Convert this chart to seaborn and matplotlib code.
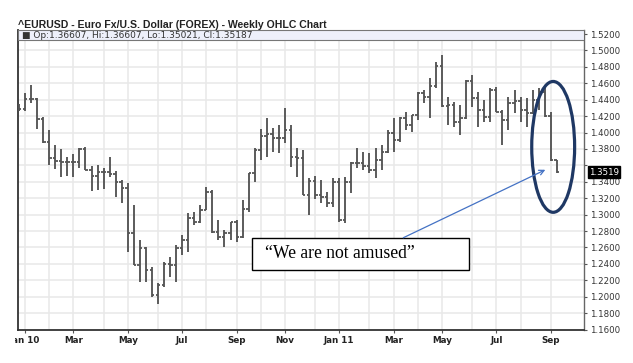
import numpy as np
import pandas as pd
import matplotlib
matplotlib.use("Agg")
import matplotlib.pyplot as plt
import matplotlib.transforms as mtransforms
from matplotlib.patches import Ellipse, Rectangle
import seaborn as sns

# ---------------- data (weekly EUR/USD bars) ----------------
first_week = "2009-12-28"

opens = [1.4336, 1.4288, 1.4409, 1.4409, 1.4166, 1.3886, 1.3692, 1.3655, 1.3643, 1.3643,
         1.3643, 1.3801, 1.3546, 1.3473, 1.3521, 1.3521, 1.3497, 1.3400, 1.3327, 1.2779,
         1.2390, 1.2597, 1.2329, 1.2025, 1.2147, 1.2402, 1.2390, 1.2597, 1.2694, 1.2962,
         1.2913, 1.3059, 1.3278, 1.2791, 1.2730, 1.2779, 1.2913, 1.2730, 1.3071, 1.3509,
         1.3789, 1.3959, 1.3983, 1.3935, 1.3935, 1.4032, 1.3704, 1.3692, 1.3241, 1.3412,
         1.3241, 1.3217, 1.3144, 1.3400, 1.2937, 1.3400, 1.3631, 1.3631, 1.3594, 1.3546,
         1.3667, 1.3765, 1.3996, 1.3911, 1.4178, 1.4093, 1.4215, 1.4482, 1.4434, 1.4567,
         1.4811, 1.4324, 1.4336, 1.4130, 1.4178, 1.4628, 1.4421, 1.4275, 1.4190, 1.4519,
         1.4251, 1.4154, 1.4361, 1.4385, 1.4275, 1.4239, 1.4397, 1.4494, 1.4202, 1.36607]

highs = [1.4348, 1.4482, 1.4580, 1.4421, 1.4190, 1.4032, 1.3850, 1.3801, 1.3704, 1.3740,
         1.3813, 1.3825, 1.3594, 1.3606, 1.3570, 1.3704, 1.3533, 1.3424, 1.3387, 1.3120,
         1.2694, 1.2609, 1.2366, 1.2171, 1.2426, 1.2487, 1.2633, 1.2755, 1.3022, 1.3035,
         1.3120, 1.3339, 1.3302, 1.2937, 1.2816, 1.2913, 1.2937, 1.3181, 1.3509, 1.3813,
         1.4044, 1.4178, 1.4056, 1.4093, 1.4300, 1.4093, 1.3813, 1.3789, 1.3448, 1.3473,
         1.3424, 1.3278, 1.3448, 1.3448, 1.3460, 1.3643, 1.3813, 1.3765, 1.3752, 1.3813,
         1.3850, 1.4032, 1.4178, 1.4190, 1.4251, 1.4215, 1.4494, 1.4519, 1.4665, 1.4859,
         1.4945, 1.4434, 1.4373, 1.4336, 1.4640, 1.4701, 1.4494, 1.4397, 1.4543, 1.4555,
         1.4275, 1.4434, 1.4519, 1.4434, 1.4421, 1.4519, 1.4543, 1.4543, 1.4251, 1.36607]

lows = [1.4263, 1.4263, 1.4361, 1.4044, 1.3874, 1.3606, 1.3558, 1.3460, 1.3473, 1.3460,
        1.3570, 1.3546, 1.3290, 1.3302, 1.3314, 1.3460, 1.3217, 1.3144, 1.2548, 1.2390,
        1.2183, 1.2183, 1.2001, 1.1915, 1.2122, 1.2244, 1.2183, 1.2512, 1.2548, 1.2876,
        1.2901, 1.3059, 1.2779, 1.2694, 1.2609, 1.2694, 1.2670, 1.2718, 1.3035, 1.3400,
        1.3667, 1.3704, 1.3765, 1.3752, 1.3874, 1.3582, 1.3460, 1.3241, 1.2998, 1.3193,
        1.3144, 1.3095, 1.3095, 1.2913, 1.2901, 1.3266, 1.3570, 1.3546, 1.3509, 1.3448,
        1.3546, 1.3752, 1.3765, 1.3886, 1.4032, 1.4008, 1.4154, 1.4361, 1.4178, 1.4543,
        1.4312, 1.4093, 1.4069, 1.3971, 1.4166, 1.4312, 1.4069, 1.4130, 1.4130, 1.4251,
        1.3850, 1.4032, 1.4239, 1.4130, 1.4069, 1.4227, 1.4275, 1.4190, 1.3655, 1.35021]

closes = [1.4288, 1.4409, 1.4409, 1.4166, 1.3886, 1.3692, 1.3655, 1.3643, 1.3643, 1.3643,
          1.3801, 1.3546, 1.3473, 1.3521, 1.3521, 1.3497, 1.3400, 1.3327, 1.2779, 1.2390,
          1.2597, 1.2329, 1.2025, 1.2147, 1.2402, 1.2390, 1.2597, 1.2694, 1.2962, 1.2913,
          1.3059, 1.3278, 1.2791, 1.2730, 1.2779, 1.2913, 1.2730, 1.3071, 1.3509, 1.3789,
          1.3959, 1.3983, 1.3935, 1.3935, 1.4032, 1.3704, 1.3692, 1.3241, 1.3412, 1.3241,
          1.3217, 1.3144, 1.3400, 1.2937, 1.3400, 1.3631, 1.3631, 1.3594, 1.3546, 1.3667,
          1.3765, 1.3996, 1.3911, 1.4178, 1.4093, 1.4215, 1.4482, 1.4434, 1.4567, 1.4811,
          1.4324, 1.4336, 1.4130, 1.4178, 1.4628, 1.4421, 1.4275, 1.4190, 1.4519, 1.4251,
          1.4154, 1.4361, 1.4385, 1.4275, 1.4239, 1.4397, 1.4494, 1.4202, 1.3667, 1.35187]

y_ticks = [1.16, 1.18, 1.20, 1.22, 1.24, 1.26, 1.28, 1.30, 1.32, 1.34,
           1.36, 1.38, 1.40, 1.42, 1.44, 1.46, 1.48, 1.50, 1.52]
x_tick_labels = ["Jan 10", "Mar", "May", "Jul", "Sep", "Nov",
                 "Jan 11", "Mar", "May", "Jul", "Sep"]

title = "^EURUSD - Euro Fx/U.S. Dollar (FOREX) - Weekly OHLC Chart"
legend_text = "\u25A0 Op:1.36607, Hi:1.36607, Lo:1.35021, Cl:1.35187"
last_label = "1.3519"
note_text = "\u201cWe are not amused\u201d"

# ---------------- frame ----------------
dates = pd.date_range(first_week, periods=len(closes), freq="7D")
df = pd.DataFrame({"date": dates, "open": opens, "high": highs,
                   "low": lows, "close": closes})
df["idx"] = np.arange(len(df))

sns.set_theme(style="white")
plt.rcParams["font.family"] = ["DejaVu Sans"]

W, H = 633, 363
fig = plt.figure(figsize=(W / 100, H / 100), dpi=100)
fig.patch.set_facecolor("white")
ax = fig.add_axes([18 / W, 33 / H, 566 / W, 300 / H])
ax.set_facecolor("white")

# month starts -> vertical grid, odd months labelled
month_start = [i for i in range(1, len(df)) if df["date"][i].month != df["date"][i - 1].month]
labelled = [i for i in month_start if df["date"][i].month % 2 == 1]

grid_c = "#e8e8e8"
for i in month_start:
    ax.axvline(i, color=grid_c, lw=1.1, zorder=0)
for v in y_ticks:
    ax.axhline(v, color=grid_c, lw=1.1, zorder=0)

# OHLC bars
bar_c = "#555555"
ax.vlines(df["idx"], df["low"], df["high"], color=bar_c, lw=1.35, zorder=3)
ax.hlines(df["open"], df["idx"] - 0.4, df["idx"], color=bar_c, lw=1.3, zorder=3)
ax.hlines(df["close"], df["idx"], df["idx"] + 0.4, color=bar_c, lw=1.3, zorder=3)

ax.set_xlim(-0.17, 93.5)
ax.set_ylim(1.1594, 1.5249)

# y axis on right
ax.yaxis.tick_right()
ax.set_yticks(y_ticks)
ax.set_yticklabels(["" if abs(v - 1.36) < 1e-9 else f"{v:.4f}" for v in y_ticks])
ax.tick_params(axis="y", right=True, left=False, length=2.5, width=0.8,
               color="#555555", labelsize=6.2, labelcolor="#333333", pad=1.5)

ax.set_xticks(labelled)
ax.set_xticklabels(x_tick_labels)
ax.tick_params(axis="x", bottom=True, length=1.8, width=0.8, color="#555555",
               labelsize=6.3, labelcolor="#222222", pad=2.5)
for lab in ax.get_xticklabels():
    lab.set_fontweight("bold")
clip = mtransforms.TransformedBbox(mtransforms.Bbox([[15 / W, 0], [1, 1]]), fig.transFigure)
first = ax.get_xticklabels()[0]
first.set_clip_box(clip)
first.set_clip_on(True)

for side, c, w in [("left", "#333333", 1.3), ("bottom", "#333333", 1.3),
                   ("right", "#666666", 1.0), ("top", "#777777", 0.8)]:
    ax.spines[side].set_visible(True)
    ax.spines[side].set_color(c)
    ax.spines[side].set_linewidth(w)

# legend strip
strip_h = 10 / 300
ax.add_patch(Rectangle((0, 1 - strip_h), 1, strip_h, transform=ax.transAxes,
                       facecolor="#eef0fb", edgecolor="#777777", lw=0.8, zorder=5))
ax.text(4 / 566, 1 - strip_h / 2, legend_text, transform=ax.transAxes,
        fontsize=6.5, color="#333333", va="center", ha="left", zorder=6)

# title
fig.text(18 / W, 1 - 28 / H, title, fontsize=7.6, fontweight="bold",
         family=["Liberation Sans"], color="#222222", va="baseline", ha="left")

# last value box
trans = mtransforms.blended_transform_factory(ax.transAxes, ax.transData)
ax.text(1 + 5 / 566, closes[-1], last_label, transform=trans, fontsize=6.2,
        color="white", va="center", ha="left", zorder=9, clip_on=False,
        bbox=dict(boxstyle="square,pad=0.12", facecolor="black", edgecolor="black"))

# annotation: ellipse, arrow, text box
ax.add_patch(Ellipse((88.4, 1.3825), width=7.1, height=0.1594, fill=False,
                     edgecolor="#1f3864", lw=2.3, zorder=8, clip_on=False))
ax.annotate("", xy=(87.1, 1.3546), xytext=(63.6, 1.2718),
            arrowprops=dict(arrowstyle="->", color="#4472c4", lw=0.9,
                            mutation_scale=9, shrinkA=0, shrinkB=0), zorder=8)
ax.add_patch(Rectangle((38.6, 1.2329), 35.9, 0.0389, facecolor="white",
                       edgecolor="black", lw=1.0, zorder=6))
ax.text(40.7, 1.2524, note_text, fontsize=12.7, family=["Liberation Serif"],
        color="black", va="center", ha="left", zorder=7)

fig.savefig("out.png", dpi=100, facecolor="white")
